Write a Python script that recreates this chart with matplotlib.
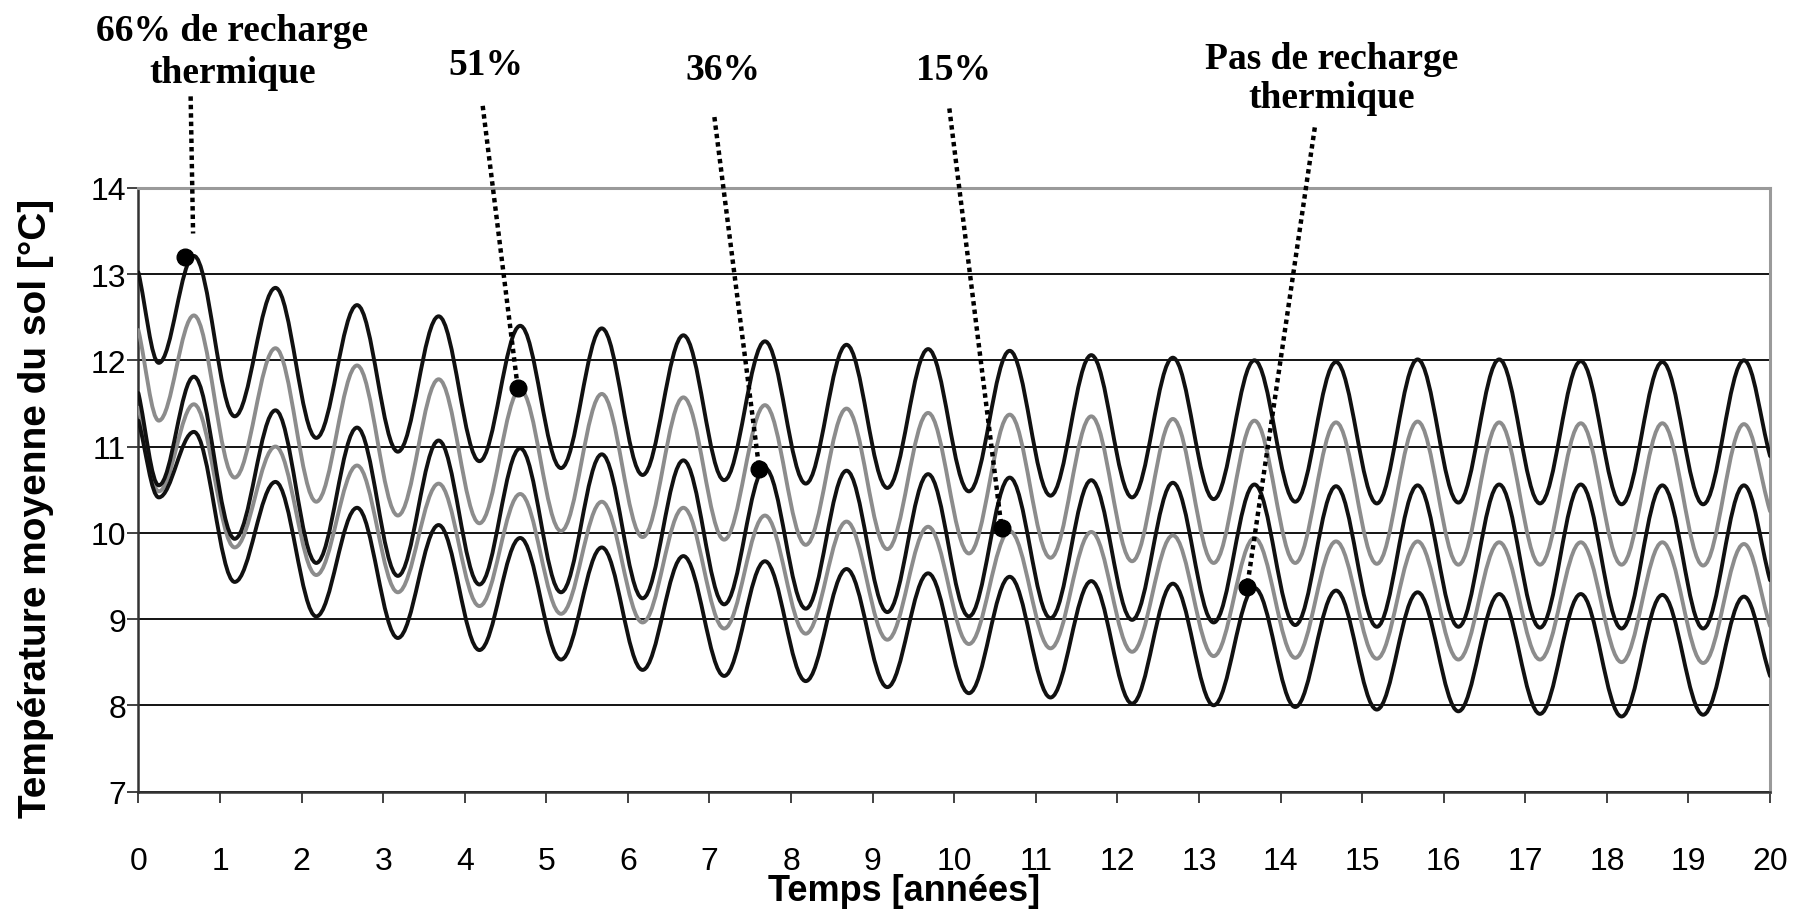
import matplotlib
matplotlib.use("Agg")
import matplotlib.pyplot as plt
from matplotlib.path import Path
from matplotlib.patches import PathPatch

# ---------------- data ----------------
years = list(range(20))            # cycle index (one seasonal cycle per year)
trough_phase = 0.18                # position of the yearly minimum within the year
peak_phase = 0.68                  # position of the yearly maximum within the year
first_trough_time = 0.25

series_names = ["66% de recharge\nthermique", "51%", "36%", "15%",
                "Pas de recharge\nthermique"]

start_66 = 13.02
troughs_66 = [11.97, 11.35, 11.10, 10.94, 10.83, 10.75, 10.67, 10.61, 10.57, 10.52,
              10.48, 10.43, 10.41, 10.39, 10.36, 10.34, 10.35, 10.34, 10.33, 10.33]
peaks_66 = [13.21, 12.84, 12.64, 12.51, 12.40, 12.37, 12.29, 12.22, 12.18, 12.13,
            12.11, 12.06, 12.03, 12.00, 11.98, 12.01, 12.01, 11.99, 11.98, 12.00]
end_66 = 10.89

start_51 = 12.35
troughs_51 = [11.30, 10.64, 10.36, 10.20, 10.11, 10.02, 9.95, 9.92, 9.86, 9.81,
              9.76, 9.71, 9.67, 9.65, 9.65, 9.64, 9.63, 9.63, 9.63, 9.62]
peaks_51 = [12.52, 12.14, 11.94, 11.78, 11.66, 11.61, 11.57, 11.48, 11.44, 11.39,
            11.37, 11.35, 11.32, 11.30, 11.28, 11.29, 11.28, 11.27, 11.27, 11.26]
end_51 = 10.25

start_36 = 11.62
troughs_36 = [10.55, 9.93, 9.65, 9.50, 9.40, 9.31, 9.24, 9.17, 9.12, 9.08,
              9.03, 9.01, 8.99, 8.96, 8.93, 8.91, 8.91, 8.90, 8.89, 8.89]
peaks_36 = [11.81, 11.42, 11.22, 11.07, 10.98, 10.91, 10.84, 10.75, 10.72, 10.68,
            10.64, 10.61, 10.58, 10.56, 10.54, 10.55, 10.56, 10.56, 10.55, 10.55]
end_36 = 9.45

start_15 = 11.45
troughs_15 = [10.48, 9.83, 9.51, 9.31, 9.15, 9.06, 8.96, 8.89, 8.83, 8.76,
              8.71, 8.66, 8.62, 8.57, 8.55, 8.54, 8.53, 8.53, 8.50, 8.49]
peaks_15 = [11.49, 11.00, 10.78, 10.57, 10.45, 10.36, 10.29, 10.20, 10.13, 10.07,
            10.02, 10.01, 9.97, 9.94, 9.90, 9.90, 9.89, 9.89, 9.89, 9.87]
end_15 = 8.92

start_00 = 11.30
troughs_00 = [10.41, 9.43, 9.03, 8.78, 8.64, 8.53, 8.41, 8.34, 8.28, 8.21,
              8.14, 8.09, 8.02, 8.00, 7.98, 7.95, 7.93, 7.90, 7.87, 7.89]
peaks_00 = [11.17, 10.59, 10.29, 10.09, 9.94, 9.83, 9.73, 9.67, 9.58, 9.53,
            9.49, 9.44, 9.41, 9.36, 9.33, 9.31, 9.29, 9.29, 9.28, 9.26]
end_00 = 8.34

# annotation: label position, leader line start/end, marker point
label_x = [1.15, 4.26, 7.16, 9.99, 14.63]
label_y = [15.58, 15.43, 15.37, 15.37, 15.27]
leader_top_x = [0.64, 4.22, 7.06, 9.94, 14.42]
leader_top_y = [15.06, 14.95, 14.82, 14.92, 14.70]
leader_end_x = [0.67, 4.65, 7.61, 10.58, 13.59]
leader_end_y = [13.47, 11.68, 10.74, 10.06, 9.37]
marker_x = [0.575, 4.65, 7.61, 10.58, 13.59]
marker_y = [13.20, 11.68, 10.74, 10.06, 9.37]

x_ticks = list(range(0, 21))
y_ticks = list(range(7, 15))

# ---------------- styling ----------------
BLACK = "#111111"
GRAY = "#8c8c8c"
colors = [BLACK, GRAY, BLACK, GRAY, BLACK]
label_linespacing = [1.25, 1.2, 1.2, 1.2, 1.14]

fig = plt.figure(figsize=(17.93, 9.12), dpi=100)
ax = fig.add_axes([0.0772, 0.131, 0.9100, 0.662])
ax.set_xlim(0, 20)
ax.set_ylim(7, 14)


def curve_path(start, troughs, peaks, end):
    pts = [(0.0, start)]
    for i, y in enumerate(years):
        tt = first_trough_time if i == 0 else y + trough_phase
        pts.append((tt, troughs[i]))
        pts.append((y + peak_phase, peaks[i]))
    pts.append((20.0, end))
    verts = [pts[0]]
    codes = [Path.MOVETO]
    k = 0.364
    n = len(pts)
    for j in range(n - 1):
        (x0, y0), (x1, y1) = pts[j], pts[j + 1]
        dx = x1 - x0
        if j == 0:
            c1 = (x0 + k * dx, y0 + (y1 - y0) * k)
        else:
            c1 = (x0 + k * dx, y0)
        if j == n - 2:
            c2 = (x1 - k * dx, y1 - (y1 - y0) * k)
        else:
            c2 = (x1 - k * dx, y1)
        verts += [c1, c2, (x1, y1)]
        codes += [Path.CURVE4, Path.CURVE4, Path.CURVE4]
    return Path(verts, codes)


all_series = [
    (start_66, troughs_66, peaks_66, end_66),
    (start_51, troughs_51, peaks_51, end_51),
    (start_36, troughs_36, peaks_36, end_36),
    (start_15, troughs_15, peaks_15, end_15),
    (start_00, troughs_00, peaks_00, end_00),
]

# grid
ax.set_yticks(y_ticks)
ax.set_xticks(x_ticks)
ax.grid(axis="y", color="black", linewidth=1.3, zorder=1)
ax.set_axisbelow(True)

order = [1, 3, 0, 2, 4]
for idx in order:
    s, tr, pk, e = all_series[idx]
    patch = PathPatch(curve_path(s, tr, pk, e), fill=False, edgecolor=colors[idx],
                      linewidth=2.8, capstyle="round", joinstyle="round", zorder=3)
    ax.add_patch(patch)

# annotations
for i in range(5):
    ax.plot([leader_top_x[i], leader_end_x[i]], [leader_top_y[i], leader_end_y[i]],
            linestyle=(0, (1.0, 0.9)), color="black", linewidth=3.2,
            clip_on=False, zorder=5)
    ax.plot(marker_x[i], marker_y[i], "o", color="black", markersize=12,
            clip_on=False, zorder=6)
    ax.text(label_x[i], label_y[i], series_names[i], ha="center", va="center",
            fontfamily="Liberation Serif", fontweight="bold", fontsize=27,
            linespacing=label_linespacing[i], clip_on=False, zorder=6)

# spines
for side in ["top", "right"]:
    ax.spines[side].set_color("#9a9a9a")
    ax.spines[side].set_linewidth(2.2)
for side in ["left", "bottom"]:
    ax.spines[side].set_color("#333333")
    ax.spines[side].set_linewidth(1.8)

ax.tick_params(axis="both", direction="out", length=8, width=1.3, color="#333333",
               labelsize=23)
ax.tick_params(axis="x", pad=31)
ax.tick_params(axis="y", pad=1)
for lab in ax.get_xticklabels() + ax.get_yticklabels():
    lab.set_fontfamily("Liberation Sans")

ax.set_ylabel("Température moyenne du sol [°C]", fontfamily="Liberation Sans",
              fontweight="bold", fontsize=28)
ax.yaxis.set_label_coords(-0.052, 0.47)
ax.set_xlabel("Temps [années]", fontfamily="Liberation Sans", fontweight="bold",
              fontsize=26)
ax.xaxis.set_label_coords(0.469, -0.135)

fig.savefig("out.png", dpi=100, facecolor="white")
